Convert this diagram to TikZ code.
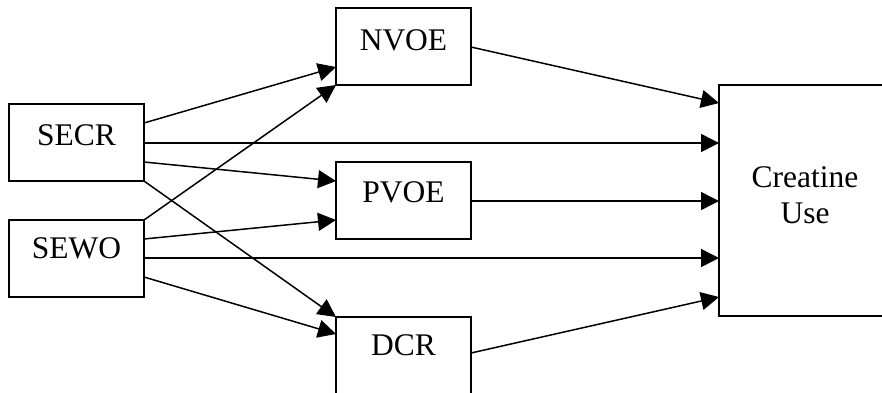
\documentclass[tikz,border=0pt]{standalone}
\usepackage{fontspec}
\setmainfont{Liberation Serif}
\usetikzlibrary{arrows.meta,calc}
\begin{document}
\begin{tikzpicture}[x=1pt,y=-1pt,
  box/.style={draw=black,line width=1.5pt,rectangle,inner sep=0pt,outer sep=0pt,minimum width=135pt,minimum height=77pt},
  txt/.style={inner sep=0pt,anchor=base,font=\fontsize{31.5pt}{36pt}\selectfont},
  arr/.style={line width=1.5pt,-{Triangle[length=18pt,width=18pt]}}]
\useasboundingbox (0,0) rectangle (882,392);
% boxes
\node[box] (secr) at (76.5,142.5) {};
\node[box] (sewo) at (76.5,258.5) {};
\node[box] (nvoe) at (403.5,46.5) {};
\node[box] (pvoe) at (403.5,200.5) {};
\node[box] (dcr)  at (403.5,355.5) {};
\node[box,minimum width=173pt,minimum height=231pt] (cu) at (805.5,200.5) {};
% texts
\node[txt] (secrt) at (76.5,145) {SECR};
\node[txt] (sewot) at (76.5,258) {SEWO};
\node[txt] (nvoet) at (403.5,50) {NVOE};
\node[txt] (pvoet) at (403.5,202.5) {PVOE};
\node[txt] (dcrt)  at (403.5,355) {DCR};
\node[txt] (cut1) at (805,187) {Creatine};
\node[txt] (cut2) at (805,223) {Use};
% connectors from SECR
\draw[arr] ($(secr.north east)+(0,19)$) -- ($(nvoe.north west)+(0,59)$);
\draw[arr] ($(secr.north east)+(0,39)$) -- ($(cu.north west)+(0,58)$);
\draw[arr] ($(secr.north east)+(0,58)$) -- ($(pvoe.north west)+(0,19)$);
\draw[arr] (secr.south east) -- (dcr.north west);
% connectors from SEWO
\draw[arr] (sewo.north east) -- (nvoe.south west);
\draw[arr] ($(sewo.north east)+(0,19)$) -- ($(pvoe.north west)+(0,58)$);
\draw[arr] ($(sewo.north east)+(0,38)$) -- ($(cu.north west)+(0,173)$);
\draw[arr] ($(sewo.north east)+(0,57)$) -- ($(dcr.north west)+(0,17)$);
% mediators to Creatine Use
\draw[arr] ($(nvoe.north east)+(0,39)$) -- ($(cu.north west)+(0,18)$);
\draw[arr] ($(pvoe.north east)+(0,39)$) -- ($(cu.north west)+(0,116)$);
\draw[arr] ($(dcr.north east)+(0,36)$) -- ($(cu.north west)+(0,212)$);
\end{tikzpicture}
\end{document}
